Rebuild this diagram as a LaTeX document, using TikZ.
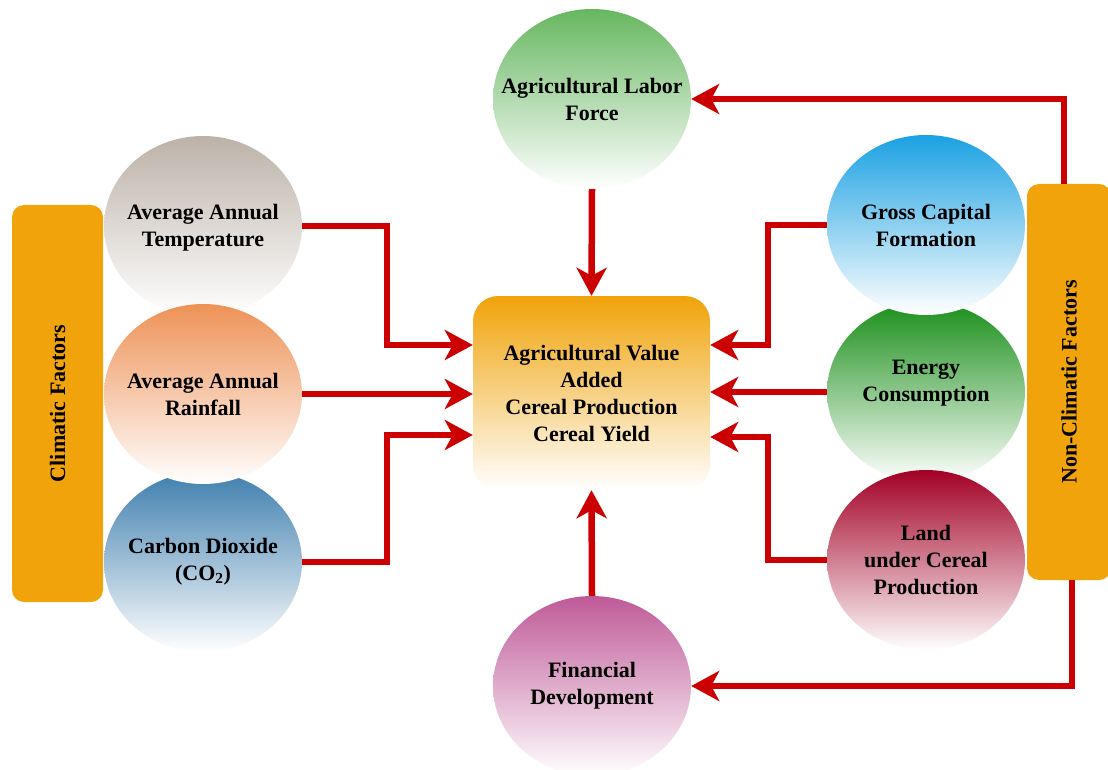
\documentclass[tikz,border=0pt]{standalone}
\usepackage{fontspec}
\setmainfont{Liberation Serif}
\usepackage{graphicx}
\usetikzlibrary{arrows.meta,shapes.geometric,shadings}

\definecolor{barorange}{HTML}{F0A30A}
\definecolor{flowred}{HTML}{CC0000}
\definecolor{tempgray}{HTML}{BCB2A8}
\definecolor{rainorange}{HTML}{EE9257}
\definecolor{coblue}{HTML}{3F7FAE}
\definecolor{laborgreen}{HTML}{66B760}
\definecolor{grossblue}{HTML}{1BA1E2}
\definecolor{energygreen}{HTML}{1A8F1A}
\definecolor{landred}{HTML}{A20025}
\definecolor{finpink}{HTML}{BF5A98}

\tikzset{
  factor/.style={ellipse, minimum width=198pt, minimum height=180pt, inner sep=0pt, bottom color=white},
  lbl/.style={align=center, font=\bfseries\fontsize{22}{27}\selectfont},
  sidebar/.style={fill=barorange, rounded corners=12pt, inner sep=0pt, font=\bfseries\fontsize{22}{27}\selectfont},
  flow/.style={draw=flowred, line width=6.5pt, -{Stealth[length=28pt,width=30pt,inset=8pt]}}
}

\begin{document}
\begin{tikzpicture}[x=1pt,y=-1pt]
\useasboundingbox (0,0) rectangle (1108,770);

% climatic side
\node[factor, top color=tempgray, label={[lbl,yshift=-2pt]center:Average Annual\\Temperature}] (temp) at (203,226) {};
\node[factor, top color=coblue, label={[lbl]center:Carbon Dioxide\\(CO\textsubscript{2})}] (co2) at (203,562) {};
\node[factor, top color=rainorange, label={[lbl]center:Average Annual\\Rainfall}] (rain) at (203,394) {};

\node[factor, top color=laborgreen, label={[lbl]center:Agricultural Labor\\Force}] (labor) at (592,99) {};

\node[rectangle, rounded corners=25pt, minimum width=237pt, minimum height=194pt, top color=barorange, bottom color=white, lbl] (avbox) at (591.5,393) {Agricultural Value\\Added\\Cereal Production\\Cereal Yield};

% non-climatic side
\node[factor, top color=energygreen, label={[lbl,yshift=9pt]center:Energy\\Consumption}] (energy) at (926,392) {};
\node[factor, top color=grossblue, label={[lbl]center:Gross Capital\\Formation}] (gross) at (926,225) {};
\node[factor, top color=landred, label={[lbl]center:Land\\under Cereal\\Production}] (land) at (926,560) {};

\node[factor, top color=finpink, label={[lbl]center:Financial\\Development}] (findev) at (592,686) {};

\node[sidebar, minimum width=91pt, minimum height=397pt] (clim) at (57.5,403.5) {\rotatebox{90}{Climatic Factors}};
\node[sidebar, minimum width=84pt, minimum height=396pt] (nonclim) at (1069,382) {\rotatebox{90}{Non-Climatic Factors}};

\draw[flow] (temp.east) -- ++(85,0) |- ([yshift=48pt]avbox.west);
\draw[flow] (rain.east) -- (rain.east -| avbox.west);
\draw[flow] (co2.east) -- ++(85,0) |- ([yshift=-42pt]avbox.west);

\draw[flow] (labor.south) -- (avbox.north);
\draw[flow] (findev.north) -- (avbox.south);

\draw[flow] (gross.west) -- ++(-59,0) |- ([yshift=48pt]avbox.east);
\draw[flow] (energy.west) -- (energy.west -| avbox.east);
\draw[flow] (land.west) -- ++(-59,0) |- ([yshift=-44pt]avbox.east);

\draw[flow] ([xshift=-5pt]nonclim.north) |- (labor.east);
\draw[flow] ([xshift=3pt]nonclim.south) |- (findev.east);

\end{tikzpicture}
\end{document}
